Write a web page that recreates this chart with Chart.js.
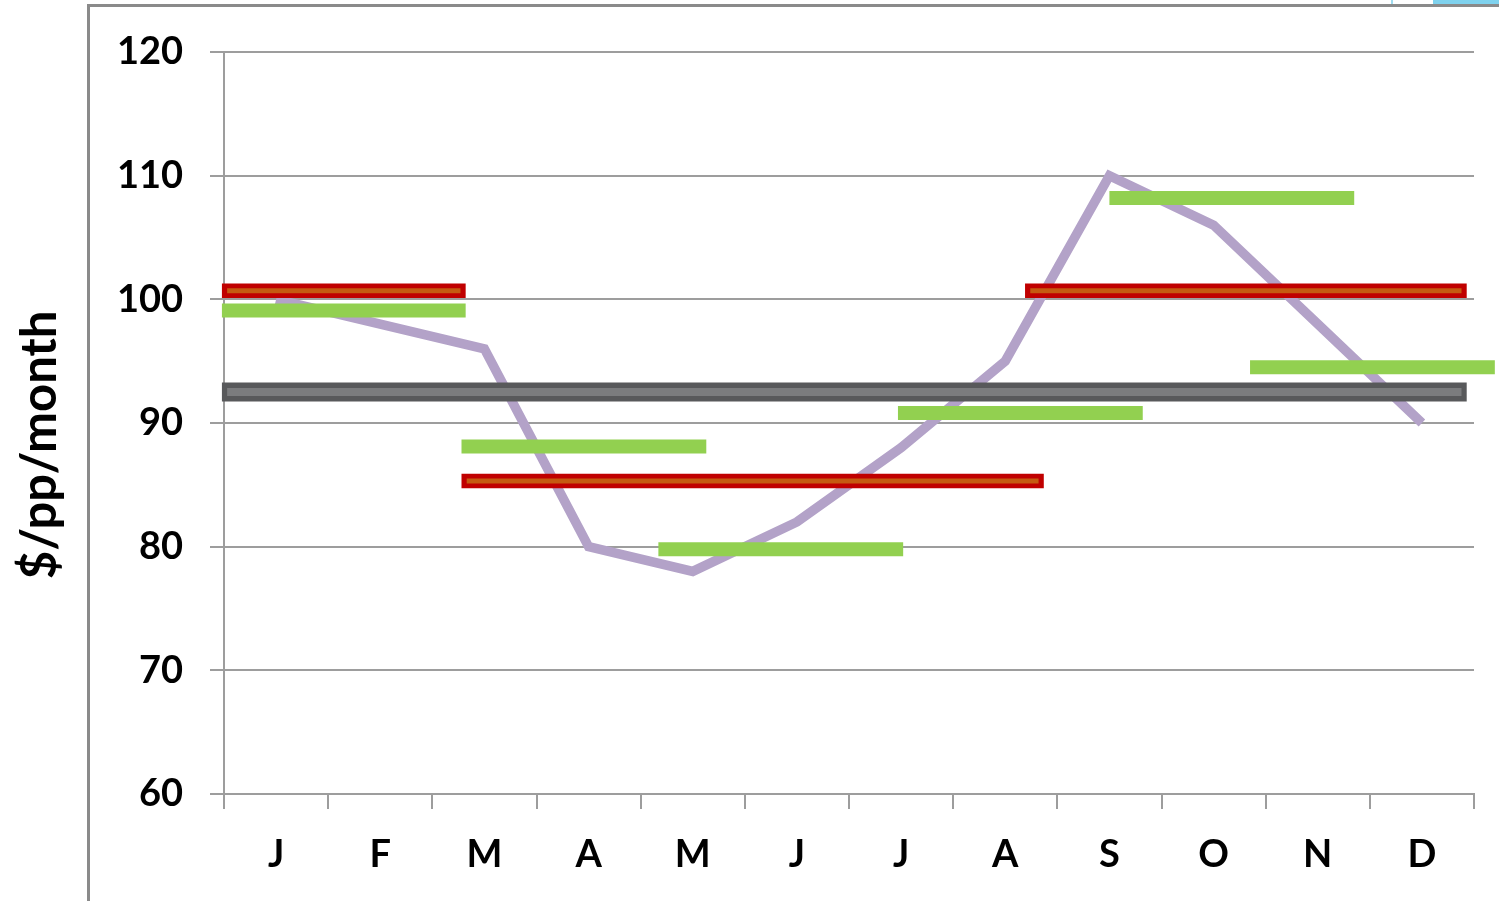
<!DOCTYPE html>
<html>
<head>
<meta charset="utf-8">
<script src="https://cdn.jsdelivr.net/npm/chart.js@4.4.0/dist/chart.umd.min.js"></script>
<style>
  html, body { margin: 0; padding: 0; background: #fff; overflow: hidden; }
  #wrap { position: relative; width: 1499px; height: 901px; }
  #frame { position: absolute; left: 87px; top: 4px; right: 0; bottom: -10px;
           border-left: 3px solid #8a8a8a; border-top: 3px solid #8a8a8a; }
  #corner { position: absolute; left: 1433px; top: 0; width: 66px; height: 4px; background: #7fd2ee; }
  #corner2 { position: absolute; left: 1391px; top: 0; width: 2px; height: 4px; background: #9fdcf0; }
  #chart { position: absolute; left: 0; top: 0; }
</style>
</head>
<body>
<div id="wrap">
  <div id="frame"></div>
  <div id="corner"></div>
  <div id="corner2"></div>
  <canvas id="chart" width="1499" height="901"></canvas>
</div>
<script>
// monthly values
const months = ['J', 'F', 'M', 'A', 'M', 'J', 'J', 'A', 'S', 'O', 'N', 'D'];
const monthly = [100, 98, 96, 80, 78, 82, 88, 95, 110, 106, 98, 90];

// y axis
const yMin = 60;
const yMax = 120;
const yStep = 10;
const yTitle = '$/pp/month';

// annual average bar (x in month units, 0 = left edge of Jan)
const avgValue = 92.5;
const avgFrom = -0.02;
const avgTo = 11.93;

// red period bars
const redValue = [100.7, 85.3, 100.7];
const redFrom = [-0.02, 2.28, 7.69];
const redTo = [2.32, 7.87, 11.93];

// green period bars
const greenValue = [99.1, 88.1, 79.8, 90.8, 108.2, 94.5];
const greenFrom = [-0.02, 2.28, 4.17, 6.47, 8.5, 9.85];
const greenTo = [2.32, 4.63, 6.52, 8.82, 10.85, 12.2];

const GRID = '#9d9d9d';
const FONT = 'Lato, "Open Sans", sans-serif';
const INSET = 0.05;

function segment(from, to, value, color, width, order) {
    return {
        type: 'line',
        xAxisID: 'x2',
        data: [{ x: from, y: value }, { x: to, y: value }],
        borderColor: color,
        borderWidth: width,
        borderCapStyle: 'butt',
        pointRadius: 0,
        clip: false,
        order: order
    };
}

const datasets = [];

datasets.push({
    type: 'line',
    xAxisID: 'x',
    data: monthly,
    borderColor: '#b3a2c8',
    borderWidth: 9.5,
    borderJoinStyle: 'miter',
    pointRadius: 0,
    tension: 0,
    order: 10
});

// grey average bar with lighter core
datasets.push(segment(avgFrom, avgTo, avgValue, '#58595b', 19, 5));
datasets.push(segment(avgFrom + INSET, avgTo - INSET, avgValue, '#7b7c7e', 8, 4));

redValue.forEach((v, i) => {
    datasets.push(segment(redFrom[i], redTo[i], v, '#c00000', 14.5, 3));
    datasets.push(segment(redFrom[i] + INSET, redTo[i] - INSET, v, '#c55a11', 5, 2));
});

greenValue.forEach((v, i) => {
    datasets.push(segment(greenFrom[i], greenTo[i], v, '#92d050', 14, 1));
});

// rotated y axis title
const titlePlugin = {
    id: 'yTitle',
    afterDraw(chart) {
        const ctx = chart.ctx;
        ctx.save();
        ctx.translate(40, 445);
        ctx.rotate(-Math.PI / 2);
        ctx.font = 'bold 49px ' + FONT;
        ctx.fillStyle = '#000';
        ctx.textAlign = 'center';
        ctx.textBaseline = 'middle';
        ctx.fillText(yTitle, 0, 0);
        ctx.restore();
    }
};

new Chart(document.getElementById('chart').getContext('2d'), {
    data: { labels: months, datasets: datasets },
    plugins: [titlePlugin],
    options: {
        responsive: false,
        animation: false,
        events: [],
        layout: { padding: { top: 52, right: 25, left: 0, bottom: 0 } },
        plugins: {
            legend: { display: false },
            tooltip: { enabled: false }
        },
        scales: {
            x: {
                type: 'category',
                offset: true,
                grid: {
                    offset: true,
                    drawOnChartArea: false,
                    color: GRID,
                    lineWidth: 2,
                    tickLength: 15
                },
                border: { color: GRID, width: 2 },
                ticks: {
                    color: '#000',
                    font: { family: FONT, size: 38, weight: 'bold' },
                    padding: 23,
                    maxRotation: 0,
                    autoSkip: false
                },
                afterFit(scale) { scale.height = 107; }
            },
            x2: {
                type: 'linear',
                display: false,
                min: 0,
                max: months.length
            },
            y: {
                min: yMin,
                max: yMax,
                grid: {
                    color: GRID,
                    lineWidth: 2,
                    tickLength: 14
                },
                border: { color: GRID, width: 2 },
                ticks: {
                    stepSize: yStep,
                    color: '#000',
                    font: { family: FONT, size: 38, weight: 'bold' },
                    padding: 27
                },
                afterFit(scale) { scale.width = 224; }
            }
        }
    }
});
</script>
</body>
</html>
